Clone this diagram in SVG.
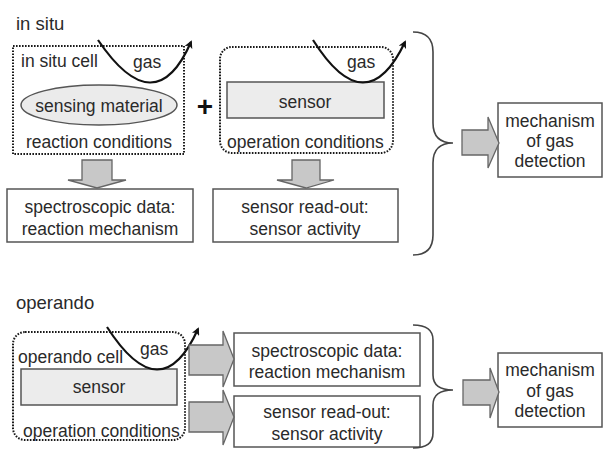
<svg xmlns="http://www.w3.org/2000/svg" width="606" height="450" viewBox="0 0 606 450">
<style>
text{font-family:"Liberation Sans",Arial,sans-serif;font-size:17.5px;fill:#2a2a2a}
.t{font-size:18.5px}
.m{text-anchor:middle}
.dot{fill:none;stroke:#1a1a1a;stroke-width:2;stroke-dasharray:1.6 1.4}
.box{fill:#fff;stroke:#555;stroke-width:1.5}
.gbox{fill:#ececec;stroke:#555;stroke-width:1.5}
.arr{fill:#c8c8c8;stroke:#666;stroke-width:1.3}
.gas{fill:none;stroke:#111;stroke-width:2.2;marker-end:url(#ah)}
.brace{fill:none;stroke:#444;stroke-width:1.6}
</style>
<defs>
<marker id="ah" markerWidth="8" markerHeight="8" refX="6" refY="4" orient="auto" markerUnits="userSpaceOnUse" viewBox="0 0 8 8">
<path d="M0,0 L8,4 L0,8 L2,4 Z" fill="#111"/>
</marker>
</defs>
<text class="t" x="16" y="30">in situ</text>
<text class="t" x="16" y="309">operando</text>

<g id="insitu-cell">
<rect class="dot" x="13" y="46" width="171" height="108"/>
<text x="21" y="67">in situ cell</text>
<text x="133" y="68">gas</text>
<ellipse cx="99" cy="105" rx="78" ry="20" fill="#ebebeb" stroke="#555" stroke-width="1.5"/>
<text class="m" x="99" y="112">sensing material</text>
<text x="26" y="148">reaction conditions</text>
</g>
<text x="205" y="116" class="m" style="font-size:28px;font-weight:bold;fill:#111">+</text>

<g id="sensor-cell">
<rect class="dot" x="220" y="47" width="173" height="106" rx="12"/>
<text x="347" y="68">gas</text>
<rect class="gbox" x="227" y="82" width="157" height="36"/>
<text class="m" x="305" y="108">sensor</text>
<text x="227" y="148">operation conditions</text>
</g>

<g id="box-spec-top">
<rect class="box" x="7" y="189" width="186" height="53"/>
<text class="m" x="100" y="213">spectroscopic data:</text>
<text class="m" x="100" y="235">reaction mechanism</text>
</g>
<g id="box-read-top">
<rect class="box" x="213" y="189" width="185" height="53"/>
<text class="m" x="305" y="213">sensor read-out:</text>
<text class="m" x="305" y="235">sensor activity</text>
</g>
<g id="mech-top">
<rect class="box" x="498" y="103" width="104" height="74"/>
<text class="m" x="550" y="127">mechanism</text>
<text class="m" x="550" y="147">of gas</text>
<text class="m" x="550" y="167">detection</text>
</g>

<g id="operando-cell">
<rect class="dot" x="13" y="332" width="172" height="108" rx="12"/>
<text x="18" y="363">operando cell</text>
<text x="140" y="355">gas</text>
<rect class="gbox" x="21" y="369" width="156" height="36"/>
<text class="m" x="99" y="393">sensor</text>
<text x="23" y="437">operation conditions</text>
</g>
<g id="box-spec-bot">
<rect class="box" x="234" y="333" width="186" height="53"/>
<text class="m" x="327" y="357">spectroscopic data:</text>
<text class="m" x="327" y="378">reaction mechanism</text>
</g>
<g id="box-read-bot">
<rect class="box" x="234" y="396" width="186" height="51"/>
<text class="m" x="327" y="418">sensor read-out:</text>
<text class="m" x="327" y="440">sensor activity</text>
</g>
<g id="mech-bot">
<rect class="box" x="498" y="353" width="104" height="74"/>
<text class="m" x="550" y="376">mechanism</text>
<text class="m" x="550" y="397">of gas</text>
<text class="m" x="550" y="417">detection</text>
</g>

<g id="connectors">
<path class="gas" d="M98,40 Q155,124 191,42"/>
<path class="gas" d="M313,40 Q366,124 405,42"/>
<path class="gas" d="M107,327 Q161,411 198,329"/>
<path class="arr" d="M82,160 H112 V180 H126 L97,188 L68,180 H82 Z"/>
<path class="arr" d="M292,160 H320 V180 H334 L306,188 L277,180 H292 Z"/>
<path class="arr" d="M462,130 H488 V117 L499,143 L488,168 V155 H462 Z"/>
<path class="arr" d="M189,345 H223 V331 L234,359 L223,387 V375 H189 Z"/>
<path class="arr" d="M189,402 H223 V390 L234,417 L223,445 V432 H189 Z"/>
<path class="arr" d="M463,380 H490 V368 L499,392 L490,418 V405 H463 Z"/>
<path class="brace" d="M413,32 Q433,32 433,52 V123 Q433,143 453,143 Q433,143 433,163 V235 Q433,255 413,255"/>
<path class="brace" d="M413,325 Q433,325 433,340 V375 Q433,390 453,390 Q433,390 433,405 V433 Q433,448 413,448"/>
</g>
</svg>
